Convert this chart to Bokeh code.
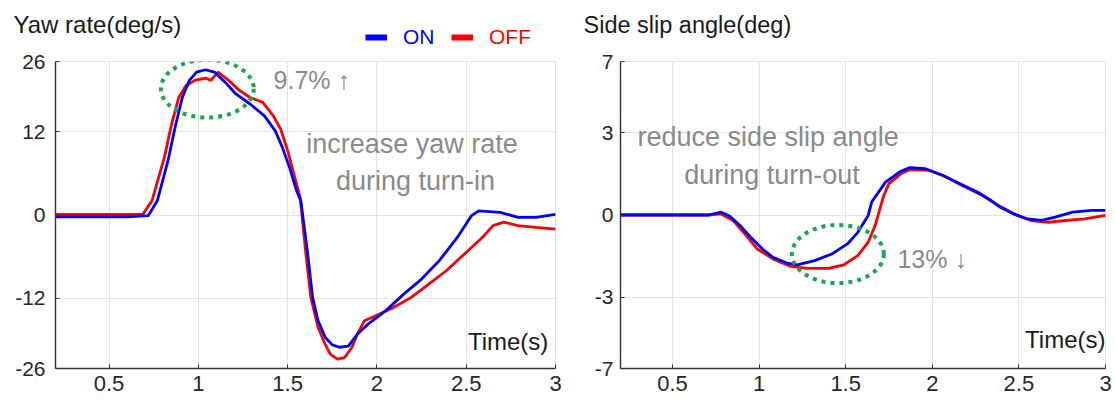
import numpy as np
from bokeh.plotting import figure
from bokeh.models import Range1d, FixedTicker, Label, Legend, LegendItem
from bokeh.layouts import row, column
from bokeh.embed import file_html
from bokeh.resources import INLINE

FONT = "Liberation Sans"
BLUE = "#0000ff"
RED = "#ff0000"
GREEN = "#1aa64f"
GRAY = "#8a8a8a"
DARK = "#262626"

# ---------------- data ----------------
x_ticks = [0.5, 1, 1.5, 2, 2.5, 3]
yaw_tick_pos = [-26, -14.1, 0, 14.1, 26]
yaw_tick_labels = ["-26", "-12", "0", "12", "26"]
slip_tick_pos = [-7, -3.76, 0, 3.76, 7]
slip_tick_labels = ["-7", "-3", "0", "3", "7"]
series_names = ["ON", "OFF"]

yaw_on_t = [0.2, 0.4, 0.6, 0.72, 0.77, 0.83, 0.87, 0.91, 0.95, 0.99, 1.04, 1.09, 1.15, 1.21,
            1.29, 1.37, 1.43, 1.47, 1.51, 1.55, 1.574, 1.61, 1.64, 1.67, 1.71, 1.75, 1.79,
            1.84, 1.89, 1.95, 2.05, 2.15, 2.25, 2.35, 2.45, 2.53, 2.57, 2.69, 2.79, 2.89, 3.0]
yaw_on = [-0.3, -0.3, -0.3, -0.1, 2.4, 9.2, 14.9, 19.9, 22.8, 24.2, 24.6, 24.2, 22.5, 20.5,
          18.8, 16.8, 14.3, 11.5, 8.1, 4.1, 2.4, -6.0, -14.0, -17.9, -20.7, -22.0, -22.4,
          -22.2, -20.2, -18.5, -16.2, -13.4, -10.85, -7.7, -3.8, -0.1, 0.7, 0.45, -0.4, -0.4, 0.1]

yaw_off_t = [0.2, 0.4, 0.6, 0.69, 0.74, 0.81, 0.85, 0.89, 0.93, 0.98, 1.04, 1.07, 1.11, 1.17,
             1.23, 1.29, 1.36, 1.42, 1.46, 1.5, 1.53, 1.57, 1.6, 1.63, 1.67, 1.71, 1.74, 1.78,
             1.82, 1.86, 1.89, 1.93, 1.99, 2.09, 2.19, 2.29, 2.39, 2.49, 2.59, 2.65, 2.71,
             2.79, 2.89, 3.0]
yaw_off = [0.1, 0.1, 0.1, 0.15, 2.4, 9.8, 15.4, 19.9, 21.9, 22.8, 23.2, 22.8, 24.2, 22.8,
           21.1, 19.9, 19.1, 16.8, 14.6, 10.9, 7.5, 3.0, -6.0, -14.0, -19.0, -21.9, -23.6, -24.4,
           -24.1, -22.4, -20.2, -17.9, -17.1, -15.7, -14.0, -11.7, -9.4, -6.6, -3.8, -1.8, -1.2,
           -1.8, -2.1, -2.4]

slip_on_t = [0.2, 0.5, 0.71, 0.78, 0.83, 0.89, 0.95, 1.02, 1.08, 1.16, 1.22, 1.32, 1.42, 1.51,
             1.57, 1.63, 1.65, 1.73, 1.81, 1.87, 1.96, 2.06, 2.16, 2.26, 2.34, 2.39, 2.47,
             2.55, 2.63, 2.71, 2.81, 2.92, 3.0]
slip_on = [0.0, 0.0, 0.0, 0.13, -0.05, -0.48, -1.0, -1.55, -1.93, -2.19, -2.27, -2.08, -1.78,
           -1.32, -0.79, -0.02, 0.59, 1.5, 1.96, 2.16, 2.11, 1.81, 1.43, 1.05, 0.66, 0.36, 0.05,
           -0.18, -0.25, -0.1, 0.13, 0.21, 0.21]

slip_off_t = [0.2, 0.5, 0.71, 0.78, 0.85, 0.91, 0.99, 1.08, 1.18, 1.28, 1.4, 1.49, 1.57, 1.63,
              1.67, 1.7, 1.72, 1.75, 1.82, 1.87, 1.98, 2.08, 2.18, 2.29, 2.35, 2.4, 2.49, 2.57,
              2.67, 2.77, 2.88, 3.0]
slip_off = [0.0, 0.0, 0.0, 0.05, -0.25, -0.79, -1.55, -2.0, -2.34, -2.43, -2.43, -2.27, -1.85,
            -1.24, -0.48, 0.35, 0.9, 1.43, 1.89, 2.07, 2.04, 1.73, 1.31, 0.89, 0.59, 0.36, -0.02,
            -0.25, -0.33, -0.25, -0.18, -0.02]

HEADER_H = 50
MAIN_H = 401 - HEADER_H


def make_fig(width, mbl, mbr, ylim, tick_pos, tick_labels, standoff):
    p = figure(width=width, height=MAIN_H, x_range=Range1d(0.2, 3), y_range=Range1d(-ylim, ylim),
               output_backend="svg", toolbar_location=None,
               min_border_left=mbl, min_border_right=mbr, min_border_top=11, min_border_bottom=33)
    p.background_fill_color = "white"
    p.border_fill_color = "white"
    p.outline_line_color = "#e2e2e2"
    p.grid.grid_line_color = "#e2e2e2"
    p.grid.grid_line_width = 1
    p.xaxis.ticker = FixedTicker(ticks=x_ticks)
    p.yaxis.ticker = FixedTicker(ticks=tick_pos)
    p.yaxis.major_label_overrides = {float(t): l for t, l in zip(tick_pos, tick_labels)}
    p.axis.axis_line_color = "#333333"
    p.axis.axis_line_width = 1.4
    p.axis.major_tick_line_color = "#333333"
    p.axis.major_tick_in = 4
    p.axis.major_tick_out = 0
    p.axis.minor_tick_line_color = None
    p.axis.major_label_text_font = FONT
    p.axis.major_label_text_color = DARK
    p.yaxis.major_label_text_font_size = "21px"
    p.xaxis.major_label_text_font_size = "22px"
    p.xaxis.major_label_standoff = 7
    p.yaxis.major_label_standoff = standoff
    return p


def lab(p, x, y, text, size, color, align="left", baseline="middle"):
    p.add_layout(Label(x=x, y=y, text=text, text_font=FONT, text_font_size=size,
                       text_color=color, text_align=align, text_baseline=baseline))


# ---------------- header: titles and legend ----------------
hdr = figure(width=1115, height=HEADER_H, x_range=Range1d(0, 1115), y_range=Range1d(0, HEADER_H),
             output_backend="svg", toolbar_location=None, min_border=0)
hdr.axis.visible = False
hdr.grid.visible = False
hdr.outline_line_color = None
hdr.background_fill_color = "white"
hdr.border_fill_color = "white"
lab(hdr, 13, HEADER_H - 24, "Yaw rate(deg/s)", "24px", "#1a1a1a")
lab(hdr, 583, HEADER_H - 24, "Side slip angle(deg)", "23.5px", "#1a1a1a")
# legend proxies (no visible data)
r_on = hdr.line(x=[np.nan], y=[np.nan], line_color=BLUE, line_width=6)
r_off = hdr.line(x=[np.nan], y=[np.nan], line_color=RED, line_width=6)
for r, name, col, lx in ((r_on, series_names[0], BLUE, 365), (r_off, series_names[1], RED, 451)):
    lg = Legend(items=[LegendItem(label=name, renderers=[r])], location=(lx, 1),
                orientation="horizontal", background_fill_alpha=0, border_line_alpha=0,
                padding=0, margin=0, spacing=0, glyph_width=22, glyph_height=20,
                label_standoff=16, label_text_color=col, label_text_font=FONT,
                label_text_font_size="21px")
    hdr.add_layout(lg)

# ---------------- left: yaw rate ----------------
p1 = make_fig(566, 55, 11, 26, yaw_tick_pos, yaw_tick_labels, 10)
p1.line(yaw_off_t, yaw_off, line_color=RED, line_width=2.8)
p1.line(yaw_on_t, yaw_on, line_color=BLUE, line_width=2.8)
p1.ellipse(x=[1.05], y=[21.4], width=[0.52], height=[9.8], fill_alpha=0,
           line_color=GREEN, line_width=4, line_dash="4 5")
lab(p1, 1.421, 22.8, "9.7% \u2191", "25px", GRAY)
lab(p1, 2.196, 12.1, "increase yaw rate", "27px", GRAY, align="center")
lab(p1, 2.216, 5.8, "during turn-in", "27px", GRAY, align="center")
lab(p1, 2.96, -21.5, "Time(s)", "24px", "#1a1a1a", align="right")

# ---------------- right: side slip angle ----------------
p2 = make_fig(549, 54, 10, 7, slip_tick_pos, slip_tick_labels, 7)
p2.line(slip_off_t, slip_off, line_color=RED, line_width=2.8)
p2.line(slip_on_t, slip_on, line_color=BLUE, line_width=2.8)
p2.ellipse(x=[1.455], y=[-1.78], width=[0.53], height=[2.65], fill_alpha=0,
           line_color=GREEN, line_width=4, line_dash="4 5")
lab(p2, 1.052, 3.57, "reduce side slip angle", "27px", GRAY, align="center")
lab(p2, 1.075, 1.83, "during turn-out", "27px", GRAY, align="center")
lab(p2, 1.799, -2.01, "13% \u2193", "25px", GRAY)
lab(p2, 3.0, -5.67, "Time(s)", "24px", "#1a1a1a", align="right")

layout = column(hdr, row(p1, p2))
open("out.html", "w").write(file_html(layout, INLINE))
